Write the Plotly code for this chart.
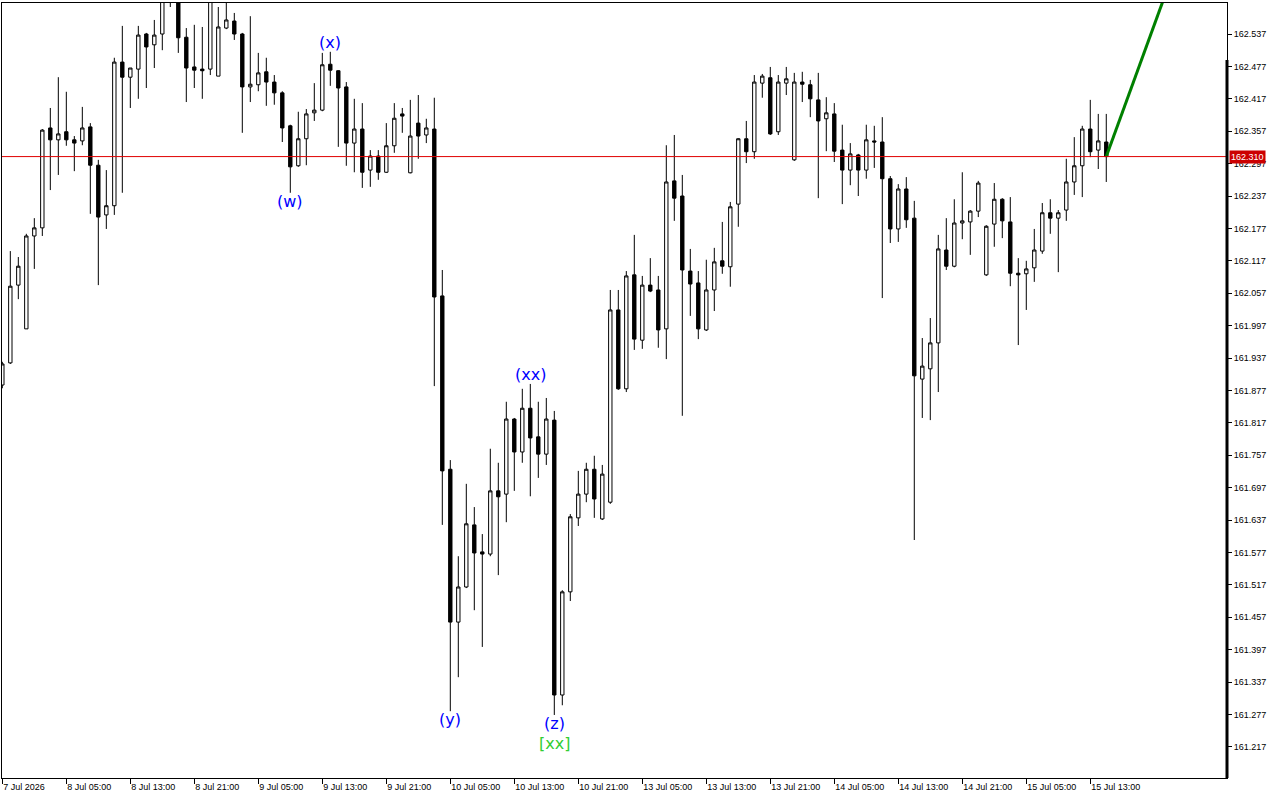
import plotly.graph_objects as go

# ---- data (H1 bars, index 0 = 7 Jul 2026 21:00) ----
open_ = [161.887,161.928,162.072,161.991,162.163,162.178,162.363,162.341,162.356,162.341,
         162.339,162.365,162.294,162.202,162.219,162.485,162.457,162.472,162.537,162.517,
         162.537,162.640,162.615,162.531,162.476,162.472,162.472,162.459,162.548,162.561,
         162.537,162.439,162.443,162.467,162.448,162.428,162.367,162.293,162.343,162.391,
         162.396,162.481,162.469,162.439,162.335,162.361,162.285,162.311,162.281,162.330,
         162.389,162.280,162.372,162.350,162.361,162.052,161.731,161.448,161.513,161.628,
         161.578,161.574,161.691,161.685,161.824,161.763,161.844,161.791,161.759,161.822,
         161.313,161.504,161.641,161.685,161.731,161.639,161.670,162.026,161.880,162.091,
         161.970,162.072,162.063,161.991,162.265,162.237,162.098,162.076,161.989,162.063,
         162.117,162.106,162.222,162.343,162.319,162.446,162.456,162.356,162.446,162.304,
         162.448,162.443,162.415,162.380,162.389,162.322,162.285,162.313,162.285,162.339,
         162.337,162.269,162.176,162.250,162.196,161.898,161.917,161.965,162.137,162.107,
         162.187,162.189,162.209,162.091,162.185,162.231,162.189,162.094,162.093,162.104,
         162.135,162.206,162.196,162.211,162.263,162.293,162.361,162.322,162.337]
high = [161.930,162.135,162.124,162.167,162.196,162.361,162.400,162.457,162.430,162.348,
        162.402,162.372,162.304,162.285,162.493,162.552,162.474,162.552,162.539,162.563,
        162.625,162.650,162.630,162.548,162.554,162.550,162.625,162.587,162.600,162.576,
        162.539,162.570,162.502,162.493,162.461,162.431,162.369,162.393,162.398,162.446,
        162.502,162.504,162.470,162.448,162.417,162.409,162.322,162.322,162.372,162.409,
        162.400,162.415,162.424,162.380,162.419,162.100,161.748,161.570,161.704,161.661,
        161.611,161.769,161.743,161.856,161.826,161.880,161.889,161.856,161.863,161.839,
        161.507,161.648,161.728,161.743,161.756,161.739,162.063,162.063,162.098,162.165,
        162.089,162.122,162.089,162.331,162.350,162.276,162.139,162.098,162.119,162.141,
        162.189,162.226,162.344,162.376,162.461,162.463,162.476,162.461,162.476,162.465,
        162.467,162.452,162.465,162.420,162.409,162.369,162.335,162.315,162.369,162.367,
        162.383,162.274,162.259,162.272,162.228,161.974,162.011,162.165,162.196,162.231,
        162.281,162.211,162.265,162.183,162.261,162.233,162.235,162.122,162.117,162.176,
        162.224,162.231,162.211,162.306,162.346,162.367,162.415,162.389,162.389]
low = [161.881,161.926,162.046,161.991,162.102,162.163,162.248,162.276,162.330,162.283,
       162.331,162.204,162.072,162.176,162.202,162.243,162.400,162.417,162.437,162.474,
       162.507,162.587,162.502,162.411,162.437,162.417,162.461,162.459,162.546,162.526,
       162.354,162.411,162.431,162.404,162.406,162.337,162.243,162.291,162.294,162.376,
       162.394,162.441,162.328,162.293,162.281,162.252,162.254,162.267,162.280,162.317,
       162.354,162.279,162.306,162.335,161.885,161.628,161.283,161.346,161.511,161.470,
       161.402,161.570,161.535,161.633,161.691,161.743,161.681,161.715,161.739,161.276,
       161.294,161.487,161.626,161.670,161.641,161.637,161.667,161.878,161.874,161.952,
       161.954,162.059,161.956,161.935,162.191,161.830,162.015,161.972,161.987,162.024,
       162.093,162.069,162.180,162.298,162.306,162.419,162.350,162.350,162.424,162.302,
       162.411,162.383,162.233,162.320,162.300,162.222,162.257,162.237,162.269,162.289,
       162.048,162.150,162.152,162.178,161.600,161.826,161.822,161.874,162.100,162.105,
       162.157,162.128,162.198,162.089,162.143,162.159,162.070,161.961,162.026,162.078,
       162.130,162.167,162.096,162.191,162.239,162.235,162.309,162.287,162.263]
close = [161.926,162.070,162.107,162.163,162.178,162.359,162.341,162.352,162.341,162.335,
         162.363,162.294,162.198,162.219,162.485,162.457,162.474,162.535,162.513,162.535,
         162.605,162.615,162.530,162.474,162.470,162.469,162.605,162.550,162.563,162.537,
         162.439,162.444,162.465,162.448,162.428,162.363,162.291,162.343,162.389,162.396,
         162.480,162.470,162.437,162.335,162.361,162.281,162.311,162.281,162.330,162.381,
         162.385,162.348,162.348,162.363,162.050,161.728,161.448,161.513,161.630,161.576,
         161.574,161.691,161.680,161.824,161.763,161.844,161.789,161.759,161.824,161.313,
         161.504,161.643,161.685,161.731,161.676,161.722,162.026,161.880,162.089,161.972,
         162.072,162.061,161.989,162.263,162.233,162.100,162.074,161.991,162.063,162.115,
         162.107,162.217,162.343,162.319,162.448,162.459,162.352,162.448,162.454,162.448,
         162.444,162.417,162.376,162.391,162.320,162.285,162.315,162.285,162.341,162.337,
         162.269,162.176,162.250,162.193,161.904,161.922,161.965,162.139,162.107,162.187,
         162.191,162.209,162.261,162.181,162.231,162.191,162.094,162.091,162.102,162.137,
         162.206,162.196,162.206,162.263,162.293,162.361,162.319,162.339,162.310]

bar_index = list(range(len(close)))

tick_bars = [0, 8, 16, 24, 32, 40, 48, 56, 64, 72, 80, 88, 96, 104, 112, 120, 128, 136]
tick_labels = ["7 Jul 2026", "8 Jul 05:00", "8 Jul 13:00", "8 Jul 21:00", "9 Jul 05:00",
               "9 Jul 13:00", "9 Jul 21:00", "10 Jul 05:00", "10 Jul 13:00", "10 Jul 21:00",
               "13 Jul 05:00", "13 Jul 13:00", "13 Jul 21:00", "14 Jul 05:00", "14 Jul 13:00",
               "14 Jul 21:00", "15 Jul 05:00", "15 Jul 13:00"]

price_ticks = [161.217, 161.277, 161.337, 161.397, 161.457, 161.517, 161.577, 161.637,
               161.697, 161.757, 161.817, 161.877, 161.937, 161.997, 162.057, 162.117,
               162.177, 162.237, 162.297, 162.357, 162.417, 162.477, 162.537]

current_price = 162.310

# wave labels: (text, bar, placed above high / below low)
wave_labels = [("(w)", 36, "low"), ("(x)", 41, "high"), ("(y)", 56, "low"),
               ("(xx)", 66, "high"), ("(z)", 69, "low")]
degree_label = ("[xx]", 69)

projection_x = [138, 150]
projection_y = [162.310, 162.798]

x_range = [-0.04, 153.09]
y_range = [161.1593, 162.5944]

# ---- figure ----
fig = go.Figure()
fig.add_trace(go.Candlestick(
    x=bar_index, open=open_, high=high, low=low, close=close,
    increasing=dict(fillcolor="white", line=dict(color="black", width=1)),
    decreasing=dict(fillcolor="black", line=dict(color="black", width=1)),
    whiskerwidth=0, hoverinfo="skip", showlegend=False))

fig.add_trace(go.Scatter(x=projection_x, y=projection_y, mode="lines",
                         line=dict(color="#008000", width=3), hoverinfo="skip",
                         showlegend=False))

fig.add_shape(type="line", xref="paper", x0=0, x1=1, yref="y",
              y0=current_price, y1=current_price, line=dict(color="#e00000", width=1))

for text, b, where in wave_labels:
    if where == "high":
        fig.add_annotation(x=b, y=high[b], text=text, showarrow=False, yanchor="bottom",
                           yshift=-2, font=dict(family="DejaVu Sans", size=16, color="#0000ff"))
    else:
        fig.add_annotation(x=b, y=low[b], text=text, showarrow=False, yanchor="top",
                           yshift=3, font=dict(family="DejaVu Sans", size=16, color="#0000ff"))
fig.add_annotation(x=degree_label[1], y=low[degree_label[1]], text=degree_label[0],
                   showarrow=False, yanchor="top", yshift=-17,
                   font=dict(family="DejaVu Sans", size=16, color="#32cd32"))

fig.add_annotation(xref="paper", x=1, xanchor="left", xshift=2, y=current_price,
                   text="162.310", showarrow=False, bgcolor="#cc0000", borderpad=1,
                   font=dict(family="Liberation Sans", size=9, color="white"))

# thick right-edge segment as in terminal
fig.add_shape(type="line", xref="paper", yref="paper", x0=1, x1=1,
              y0=0, y1=(778 - 60) / 775, line=dict(color="black", width=3))

fig.update_layout(
    width=1280, height=800,
    margin=dict(l=2, r=53, t=3, b=22),
    paper_bgcolor="white", plot_bgcolor="white",
    boxgap=0.4,
    showlegend=False,
    font=dict(family="Liberation Sans", size=9, color="black"),
    xaxis=dict(range=x_range, rangeslider=dict(visible=False), showgrid=False,
               zeroline=False, showline=True, linecolor="black", linewidth=1, mirror=True,
               tickmode="array", tickvals=tick_bars, ticktext=tick_labels,
               ticks="outside", ticklen=5, tickcolor="black", tickwidth=1,
               ticklabelposition="outside right",
               tickfont=dict(family="Liberation Sans", size=9, color="black")),
    yaxis=dict(range=y_range, side="right", showgrid=False, zeroline=False,
               showline=True, linecolor="black", linewidth=1, mirror=True,
               tickmode="array", tickvals=price_ticks,
               ticktext=[f"{v:.3f}" for v in price_ticks],
               ticks="outside", ticklen=4, tickcolor="black", tickwidth=1,
               tickfont=dict(family="Liberation Sans", size=9, color="black")),
)

fig.write_html("out.html")
